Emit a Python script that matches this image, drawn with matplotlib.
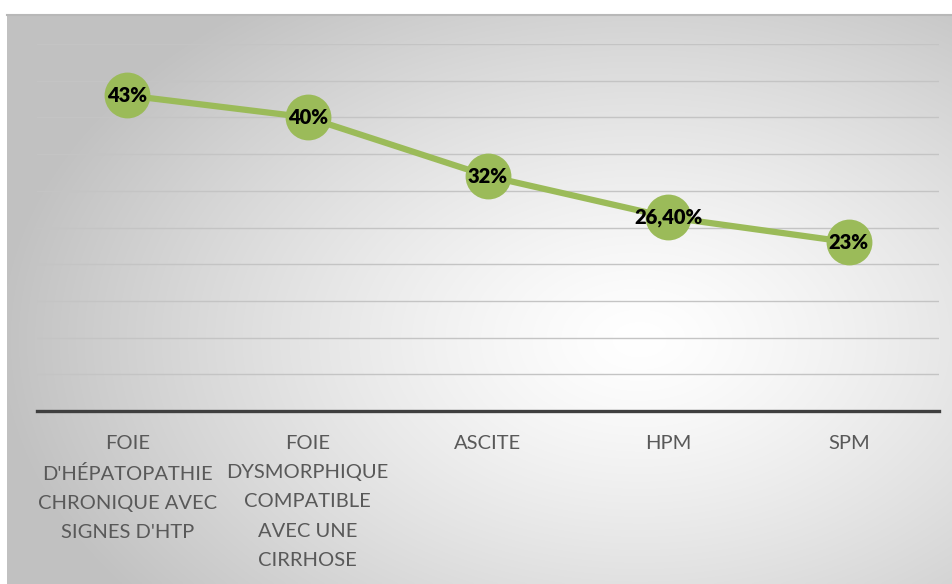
import numpy as np
import matplotlib
matplotlib.use("Agg")
import matplotlib.pyplot as plt

categories = ["FOIE\nD'HÉPATOPATHIE\nCHRONIQUE AVEC\nSIGNES D'HTP",
              "FOIE\nDYSMORPHIQUE\nCOMPATIBLE\nAVEC UNE\nCIRRHOSE",
              "ASCITE", "HPM", "SPM"]
values = [43, 40, 32, 26.4, 23]
labels = ["43%", "40%", "32%", "26,40%", "23%"]
yticks = [0, 5, 10, 15, 20, 25, 30, 35, 40, 45, 50]

W, H = 953, 584
fig = plt.figure(figsize=(W / 100, H / 100), dpi=100)
fig.patch.set_facecolor("white")

# background radial gradient (chart area)
bx0, by0, bx1, by1 = 7, 15, 953, 584
bg = fig.add_axes([bx0 / W, 1 - by1 / H, (bx1 - bx0) / W, (by1 - by0) / H])
bg.set_axis_off()
nx, ny = 400, 250
xx, yy = np.meshgrid(np.linspace(bx0, bx1, nx), np.linspace(by0, by1, ny))
cx, cy = 640, 340
d = np.sqrt(((xx - cx) / 640) ** 2 + ((yy - cy) / 420) ** 2)
d = np.clip(d, 0, 1)
g = 1.0 - 0.24 * d ** 1.3
img = np.dstack([g, g, g])
bg.imshow(img, aspect="auto", extent=[0, 1, 0, 1], interpolation="bilinear")
bg.plot([0, 1], [1, 1], color="#b8b8b8", lw=1.5, transform=bg.transAxes, clip_on=False)

left, right = 37 / W, 939 / W
bottom, top = 1 - 411 / H, 1 - 44 / H
ax = fig.add_axes([left, bottom, right - left, top - bottom])
ax.patch.set_alpha(0)
x = np.arange(len(categories))
ax.set_xlim(-0.5, len(categories) - 0.5)
ax.set_ylim(0, 50)
for t in yticks[1:]:
    ax.axhline(t, color="#c4c4c4", lw=1.0, zorder=1)
ax.axhline(0, color="#3f3f3f", lw=2.4, zorder=2, clip_on=False)
for s in ax.spines.values():
    s.set_visible(False)
ax.set_yticks([])
ax.set_xticks(x)
ax.set_xticklabels(categories, fontsize=14.5, color="#595959", family=["Lato", "DejaVu Sans"],
                   linespacing=1.88, va="top")
ax.tick_params(axis="x", length=0, pad=17)

ax.plot(x, values, color="#9BBB59", lw=4.5, zorder=3, solid_capstyle="round")
ax.plot(x, values, "o", ms=33, color="#9BBB59", markeredgewidth=0, zorder=4)
for xi, v, lab in zip(x, values, labels):
    ax.text(xi, v, lab, ha="center", va="center", fontsize=14.5, fontweight="heavy",
            color="black", family=["Lato", "DejaVu Sans"], zorder=5)

fig.savefig("out.png", dpi=100, facecolor="white")
